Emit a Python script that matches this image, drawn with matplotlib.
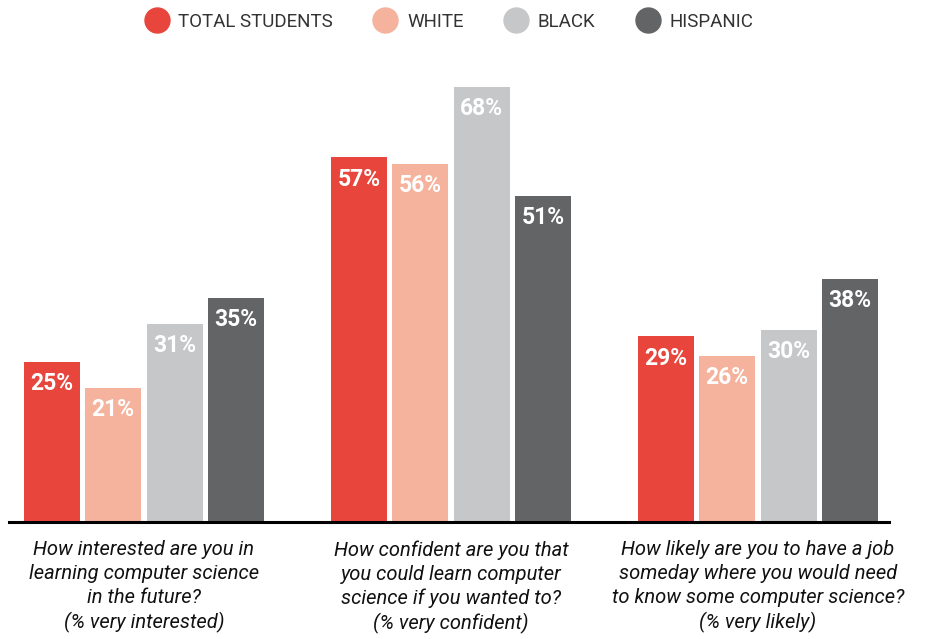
import matplotlib
matplotlib.use("Agg")
from matplotlib import pyplot as plt
from matplotlib.lines import Line2D

plt.rcParams['font.family'] = ['Roboto', 'DejaVu Sans']

questions = [
    "How interested are you in\nlearning computer science\nin the future?\n(% very interested)",
    "How confident are you that\nyou could learn computer\nscience if you wanted to?\n(% very confident)",
    "How likely are you to have a job\nsomeday where you would need\nto know some computer science?\n(% very likely)",
]
groups = ["TOTAL STUDENTS", "WHITE", "BLACK", "HISPANIC"]
total = [25, 57, 29]
white = [21, 56, 26]
black = [31, 68, 30]
hispanic = [35, 51, 38]
colors = ["#E8453C", "#F5B29C", "#C6C7C9", "#636466"]

series = [total, white, black, hispanic]

fig = plt.figure(figsize=(9.31, 6.39), dpi=100)
W, H = 931, 639
# axes placed in pixel terms: baseline at y=522, from x=9 to x=889
ax = fig.add_axes([9 / W, 117 / H, 880 / W, 462 / H])

x = list(range(len(questions)))
step = 0.2
width = 0.182
for i, vals in enumerate(series):
    xs = [v + (i - 1.5) * step for v in x]
    bars = ax.bar(xs, vals, width=width, color=colors[i], label=groups[i])
    for b, v in zip(bars, vals):
        ax.text(b.get_x() + b.get_width() / 2, v - 3.4, f"{v}%",
                ha="center", va="center", color="white",
                fontsize=16.5, fontweight="bold")

ax.set_xlim((9 - 144) / 307, (889 - 144) / 307)
ax.set_ylim(0, 72.2)
for s in ["top", "left", "right"]:
    ax.spines[s].set_visible(False)
ax.spines["bottom"].set_linewidth(2.2)
ax.spines["bottom"].set_color("black")
ax.set_yticks([])
ax.set_xticks([])

for xi, q in zip(x, questions):
    ax.text(xi, -2.85, q, ha="center", va="top", fontsize=14.5,
            style="italic", linespacing=1.32, color="#111111")

handles = [Line2D([], [], marker="o", linestyle="none", markersize=18,
                  markerfacecolor=c, markeredgecolor=c) for c in colors]
fig.legend(handles, groups, loc="center", bbox_to_anchor=(0.4815, 1 - 22 / H),
           ncol=4, frameon=False, fontsize=13.5, handlelength=1.4,
           handletextpad=0.45, columnspacing=2.1, labelcolor="#333333")

fig.savefig("out.png", dpi=100)
